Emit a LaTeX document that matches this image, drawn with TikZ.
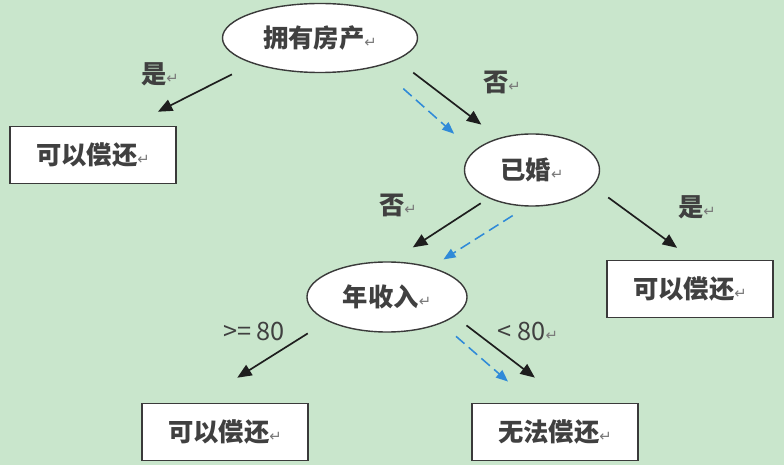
\documentclass[tikz,border=0pt]{standalone}
\usepackage{fontspec}
\setmainfont{Noto Sans CJK SC}
\newfontfamily\symfont{DejaVu Sans}
\usepackage{xcolor}
\usepackage{tikz}
\usetikzlibrary{shapes.geometric,arrows.meta}
\definecolor{gbg}{HTML}{C9E6CC}
\definecolor{gink}{HTML}{1E1E1E}
\definecolor{gline}{HTML}{3A3A3A}
\definecolor{gblue}{HTML}{2F8AD8}
\definecolor{gret}{HTML}{7A7A7A}
\newcommand{\retmark}{{\symfont\mdseries\fontsize{10.5}{10.5}\selectfont\textcolor{gret}{↵}}}

\begin{document}
\begin{tikzpicture}[x=0.025cm,y=-0.025cm,
  font=\fontsize{18}{21}\selectfont\bfseries,
  cond/.style={ellipse,draw=gline,line width=1pt,fill=white,inner sep=0pt,text=gink!85},
  leaf/.style={rectangle,draw=gline,line width=1.1pt,fill=white,minimum width=4.15cm,
               minimum height=1.43cm,inner sep=0pt,text=gink!85},
  lbl/.style={inner sep=0pt,text=gink!85},
  arr/.style={-{Triangle[length=0.36cm,width=0.3cm]},line width=1.2pt,gink},
  trace/.style={-{Triangle[length=0.3cm,width=0.24cm]},line width=1.1pt,gblue,
                dash pattern=on 0.28cm off 0.14cm}]
\fill[gbg] (0,0) rectangle (784,465);
\useasboundingbox (0,0) rectangle (784,465);
\node[cond,minimum width=4.875cm,minimum height=1.725cm] (fang) at (320,38) {拥有房产\retmark};
\node[cond,minimum width=3.375cm,minimum height=1.8cm] (hun) at (532,170) {已婚\retmark};
\node[cond,minimum width=4cm,minimum height=1.75cm] (nian) at (387,297) {年收入\retmark};
\node[leaf] (yes1) at (93,155) {可以偿还\retmark};
\node[leaf] (yes2) at (690,289) {可以偿还\retmark};
\node[leaf] (yes3) at (225,432) {可以偿还\retmark};
\node[leaf] (no1) at (555,432) {无法偿还\retmark};
\node[lbl] (fangy) at (160,74) {是\retmark};
\node[lbl] (fangn) at (502,82) {否\retmark};
\node[lbl] (hunn) at (398,205) {否\retmark};
\node[lbl] (huny) at (697,207) {是\retmark};
\node[lbl,font=\fontsize{18}{21}\selectfont] (niang) at (254,331) {>= 80};
\node[lbl,font=\fontsize{18}{21}\selectfont] (nianl) at (528,331) {< 80\retmark};
\draw[arr,shorten <=0.59cm,shorten >=0.77cm] (fang.201) -- ([xshift=0.935cm]yes1.north);
\draw[arr,shorten <=0.52cm,shorten >=0.55cm] (fang.344) -- (hun.136);
\draw[trace,shorten <=0.84cm,shorten >=0.65cm] (fang.334) -- (hun.162);
\draw[arr,shorten <=0.23cm,shorten >=0.64cm] (hun.213) -- (nian.83);
\draw[trace,shorten <=0.42cm,shorten >=0.36cm] (hun.262) -- (nian.34);
\draw[arr,shorten <=0.47cm,shorten >=0.5cm] (hun.345) -- ([xshift=0.08cm]yes2.north);
\draw[arr,shorten <=0.58cm,shorten >=1.17cm] (nian.202) -- ([xshift=-0.685cm]yes3.north);
\draw[arr,shorten <=0.37cm,shorten >=1.03cm] (nian.344) -- ([xshift=0.315cm]no1.north);
\draw[trace,shorten <=0.49cm,shorten >=0.8cm] (nian.334) -- ([xshift=-0.57cm]no1.north);
\end{tikzpicture}
\end{document}
